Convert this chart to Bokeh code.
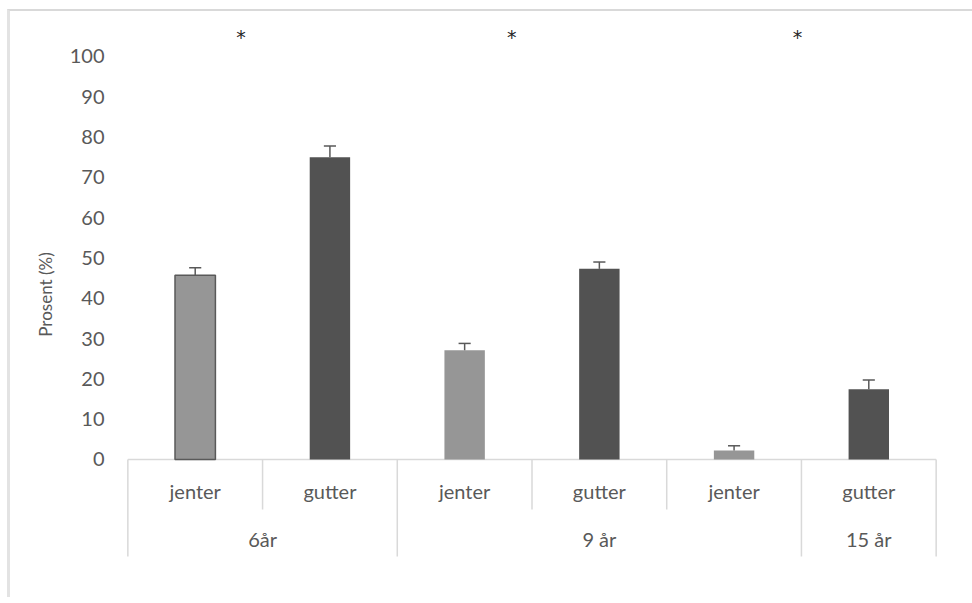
from bokeh.plotting import figure
from bokeh.models import Range1d, FixedTicker, ColumnDataSource
from bokeh.core.properties import value
from bokeh.embed import file_html
from bokeh.resources import INLINE

# ---- data ----
categories = ["jenter", "gutter", "jenter", "gutter", "jenter", "gutter"]
values = [45.7, 75.0, 27.1, 47.3, 2.2, 17.4]
errors = [1.9, 2.8, 1.7, 1.7, 1.2, 2.3]
groups = ["6år", "9 år", "15 år"]
group_sizes = [2, 3, 1]
star_x = [0.84, 2.85, 4.97]
star_y = [104.8, 104.8, 104.8]
y_ticks = [0, 10, 20, 30, 40, 50, 60, 70, 80, 90, 100]

FONT = "Lato"
TXT = "#595959"
GRID = "#d9d9d9"

bar_colors = ["#969696" if c == "jenter" else "#525252" for c in categories]
bar_lines = ["#595959"] + [None] * (len(categories) - 1)

p = figure(width=965, height=588, output_backend="svg", toolbar_location=None,
           x_range=Range1d(-0.01, 6.01), y_range=Range1d(-27.3, 109.18),
           min_border_left=116, min_border_right=38, min_border_top=8,
           min_border_bottom=30)
p.styles = {"margin-left": "7px", "margin-top": "9px",
            "border-left": "3px solid #e3e3e3", "border-top": "2px solid #d9d9d9",
            "border-right": "none", "border-bottom": "none"}
p.outline_line_color = None
p.xgrid.visible = False
p.ygrid.visible = False
p.xaxis.visible = False

ax = p.yaxis[0]
ax.ticker = FixedTicker(ticks=y_ticks)
ax.axis_line_color = None
ax.major_tick_line_color = None
ax.minor_tick_line_color = None
ax.major_tick_out = 0
ax.major_label_standoff = 22
ax.major_label_text_font = FONT
ax.major_label_text_font_size = "20px"
ax.major_label_text_color = TXT
ax.axis_label = "Prosent (%)"
ax.axis_label_text_font = FONT
ax.axis_label_text_font_size = "17px"
ax.axis_label_text_font_style = "normal"
ax.axis_label_text_color = TXT
ax.axis_label_standoff = 11

xs = [i + 0.5 for i in range(len(categories))]

# category table lines
n = len(categories)
p.segment(x0=[0], y0=[0], x1=[n], y1=[0], line_color=GRID, line_width=1.5)
bounds = [0]
for s in group_sizes:
    bounds.append(bounds[-1] + s)
inner = [i for i in range(1, n) if i not in bounds]
p.segment(x0=bounds, y0=[0] * len(bounds), x1=bounds, y1=[-24.1] * len(bounds),
          line_color=GRID, line_width=1.5)
p.segment(x0=inner, y0=[0] * len(inner), x1=inner, y1=[-12.4] * len(inner),
          line_color=GRID, line_width=1.5)

# bars
src = ColumnDataSource(dict(x=xs, top=values, color=bar_colors, lc=bar_lines))
p.vbar(x="x", top="top", bottom=0, width=0.3, source=src, fill_color="color",
       line_color="lc", line_width=1.5)

# error bars (upper only)
tops = [v + e for v, e in zip(values, errors)]
p.segment(x0=xs, y0=values, x1=xs, y1=tops, line_color="#595959", line_width=1.5)
p.segment(x0=[x - 0.045 for x in xs], y0=tops, x1=[x + 0.045 for x in xs], y1=tops,
          line_color="#595959", line_width=1.5)

# category labels
p.text(x=xs, y=[-7.7] * n, text=categories, text_font=value(FONT),
       text_font_size="20px", text_color=TXT, text_align="center",
       text_baseline="middle")
gx = [(bounds[i] + bounds[i + 1]) / 2 for i in range(len(groups))]
p.text(x=gx, y=[-19.85] * len(groups), text=groups, text_font=value(FONT),
       text_font_size="20px", text_color=TXT, text_align="center",
       text_baseline="middle")

# significance stars
p.text(x=star_x, y=star_y, text=["*"] * len(star_x), text_font=value("DejaVu Sans"),
       text_font_size="19px", text_color="#262626", text_align="center",
       text_baseline="middle")

open("out.html", "w").write(file_html(p, INLINE))
